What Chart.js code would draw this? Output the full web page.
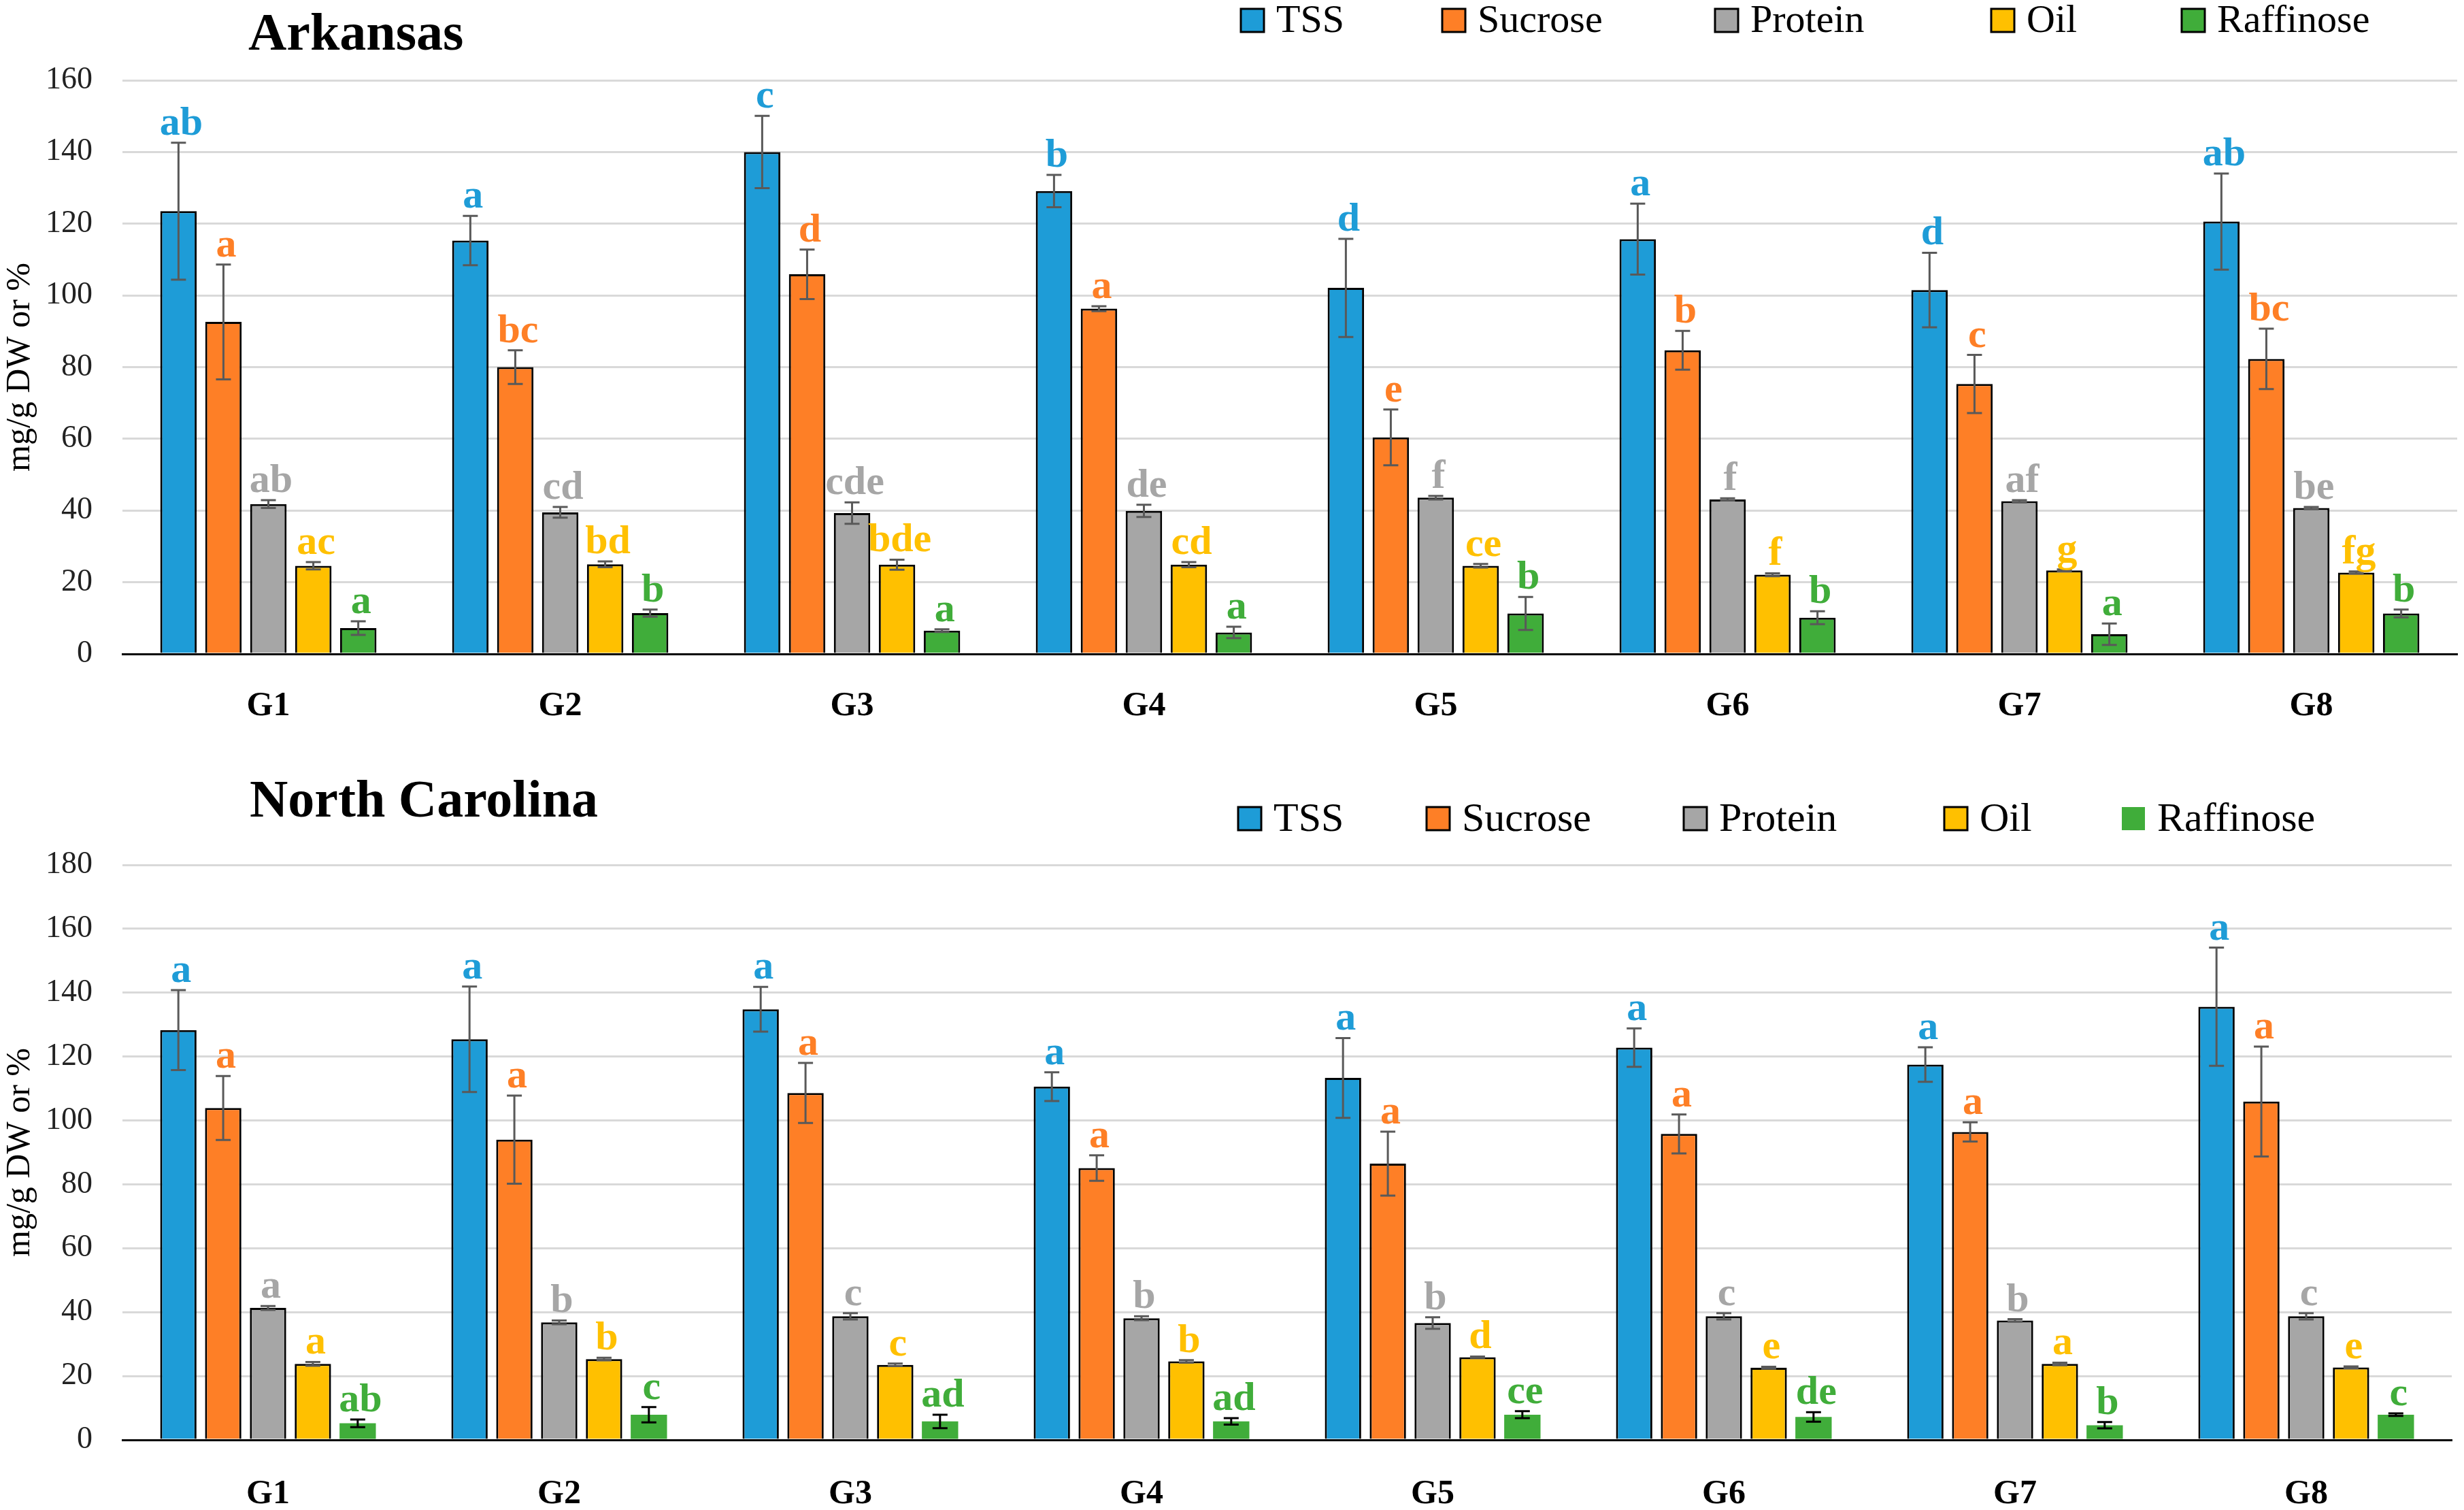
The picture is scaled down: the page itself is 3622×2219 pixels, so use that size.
<!DOCTYPE html>
<html>
<head>
<meta charset="utf-8">
<script src="https://cdn.jsdelivr.net/npm/chart.js@4.4.1/dist/chart.umd.min.js"></script>
<style>
    html, body { margin: 0; padding: 0; background: #fff; }
    .panel { position: absolute; left: 0; width: 3622px; }
</style>
</head>
<body>
<div class="panel" style="top:0;height:1100px"><canvas id="arkansas" width="3622" height="1100"></canvas></div>
<div class="panel" style="top:1100px;height:1119px"><canvas id="carolina" width="3622" height="1119"></canvas></div>
<script>
// categories and series
var groups = ['G1', 'G2', 'G3', 'G4', 'G5', 'G6', 'G7', 'G8'];
var seriesNames = ['TSS', 'Sucrose', 'Protein', 'Oil', 'Raffinose'];

// Arkansas means, errors and letters
var arTSS = [123.5, 115.3, 140.0, 129.1, 102.1, 115.7, 101.5, 120.6];
var arTSSErr = [19.1, 6.9, 10.1, 4.5, 13.7, 9.9, 10.4, 13.4];
var arSucrose = [92.6, 80.0, 105.9, 96.3, 60.4, 84.7, 75.3, 82.3];
var arSucroseErr = [16.0, 4.7, 6.9, 0.7, 7.8, 5.4, 8.1, 8.4];
var arProtein = [41.8, 39.5, 39.3, 39.9, 43.6, 43.1, 42.6, 40.7];
var arProteinErr = [1.1, 1.5, 3.0, 1.7, 0.5, 0.3, 0.3, 0.3];
var arOil = [24.6, 25.0, 24.9, 24.9, 24.6, 22.1, 23.3, 22.7];
var arOilErr = [1.0, 0.8, 1.4, 0.7, 0.5, 0.4, 0.3, 0.3];
var arRaffinose = [7.2, 11.4, 6.5, 6.0, 11.3, 10.1, 5.5, 11.3];
var arRaffinoseErr = [1.9, 1.0, 0.4, 1.6, 4.6, 1.8, 3.0, 1.1];
var arTSSLet = ['ab', 'a', 'c', 'b', 'd', 'a', 'd', 'ab'];
var arSucroseLet = ['a', 'bc', 'd', 'a', 'e', 'b', 'c', 'bc'];
var arProteinLet = ['ab', 'cd', 'cde', 'de', 'f', 'f', 'af', 'be'];
var arOilLet = ['ac', 'bd', 'bde', 'cd', 'ce', 'f', 'g', 'fg'];
var arRaffinoseLet = ['a', 'b', 'a', 'a', 'b', 'b', 'a', 'b'];

// North Carolina means, errors and letters
var ncTSS = [128.3, 125.4, 134.8, 110.6, 113.3, 122.8, 117.5, 135.6];
var ncTSSErr = [12.5, 16.5, 7.0, 4.5, 12.5, 6.0, 5.4, 18.5];
var ncSucrose = [103.9, 94.0, 108.6, 85.1, 86.5, 95.8, 96.4, 105.9];
var ncSucroseErr = [10.0, 13.8, 9.4, 4.0, 10.0, 6.1, 3.0, 17.2];
var ncProtein = [41.3, 36.8, 38.7, 38.1, 36.6, 38.7, 37.4, 38.7];
var ncProteinErr = [0.6, 0.6, 1.0, 0.6, 1.8, 1.0, 0.4, 1.0];
var ncOil = [23.8, 25.3, 23.5, 24.6, 25.9, 22.6, 23.8, 22.7];
var ncOilErr = [0.6, 0.4, 0.4, 0.4, 0.2, 0.3, 0.4, 0.3];
var ncRaffinose = [5.2, 7.9, 5.8, 5.8, 7.9, 7.2, 4.6, 7.9];
var ncRaffinoseErr = [1.2, 2.4, 2.1, 1.0, 1.1, 1.5, 1.0, 0.4];
var ncTSSLet = ['a', 'a', 'a', 'a', 'a', 'a', 'a', 'a'];
var ncSucroseLet = ['a', 'a', 'a', 'a', 'a', 'a', 'a', 'a'];
var ncProteinLet = ['a', 'b', 'c', 'b', 'b', 'c', 'b', 'c'];
var ncOilLet = ['a', 'b', 'c', 'b', 'd', 'e', 'a', 'e'];
var ncRaffinoseLet = ['ab', 'c', 'ad', 'ad', 'ce', 'de', 'b', 'c'];

var FONT = "'Liberation Serif', 'Times New Roman', serif";
var fills = ['#1e9cd7', '#fe7f26', '#a6a6a6', '#ffc000', '#40ad3a'];

// error bars + significance letters, drawn over the bars
var errorBars = {
    id: 'errorBars',
    afterDatasetsDraw: function (chart) {
        var ctx = chart.ctx;
        var y = chart.scales.y;
        chart.data.datasets.forEach(function (ds, i) {
            var meta = chart.getDatasetMeta(i);
            meta.data.forEach(function (bar, j) {
                var v = ds.data[j], e = ds.errors[j];
                var top = y.getPixelForValue(v + e);
                var bot = y.getPixelForValue(v - e);
                ctx.save();
                ctx.strokeStyle = ds.errorColor;
                ctx.lineWidth = 3;
                ctx.beginPath();
                ctx.moveTo(bar.x, top); ctx.lineTo(bar.x, bot);
                ctx.moveTo(bar.x - 11, top); ctx.lineTo(bar.x + 11, top);
                ctx.moveTo(bar.x - 11, bot); ctx.lineTo(bar.x + 11, bot);
                ctx.stroke();
                ctx.fillStyle = ds.backgroundColor;
                ctx.font = 'bold 60px ' + FONT;
                ctx.textAlign = 'center';
                ctx.textBaseline = 'alphabetic';
                ctx.fillText(ds.letters[j], bar.x + 4, top - 12);
                ctx.restore();
            });
        });
    }
};

// panel title on the left, legend row on the right
var header = {
    id: 'header',
    afterDraw: function (chart, args, opts) {
        var ctx = chart.ctx;
        ctx.save();
        ctx.fillStyle = '#000';
        ctx.font = 'bold 78px ' + FONT;
        ctx.textAlign = 'left';
        ctx.textBaseline = 'alphabetic';
        ctx.fillText(opts.title, opts.titleX, opts.titleY);
        ctx.font = opts.legendSize + 'px ' + FONT;
        ctx.textBaseline = 'middle';
        chart.data.datasets.forEach(function (ds, i) {
            var x = opts.legendX[i], s = 34;
            ctx.fillStyle = ds.backgroundColor;
            ctx.fillRect(x, opts.legendY - s / 2, s, s);
            if (ds.borderWidth > 0) {
                ctx.strokeStyle = '#000';
                ctx.lineWidth = 3;
                ctx.strokeRect(x, opts.legendY - s / 2, s, s);
            }
            ctx.fillStyle = '#000';
            ctx.fillText(ds.label, x + s + 18, opts.legendY + 2);
        });
        ctx.restore();
    }
};

var makeSet = function (values, errors, letters, idx, border, errColor) {
    return {
        label: seriesNames[idx],
        data: values,
        errors: errors,
        letters: letters,
        backgroundColor: fills[idx],
        borderColor: '#000',
        borderWidth: border,
        errorColor: errColor,
        barPercentage: 0.81,
        categoryPercentage: 0.77
    };
};

var barChart = function (id, sets, cfg) {
    try {
        var ctx = document.getElementById(id);
        if (ctx) {
            var myChart = new Chart(ctx, {
                type: 'bar',
                data: { labels: groups, datasets: sets },
                plugins: [errorBars, header],
                options: {
                    responsive: false,
                    animation: false,
                    devicePixelRatio: 1,
                    layout: { padding: { top: cfg.top, right: cfg.right, bottom: 0, left: 0 } },
                    plugins: {
                        legend: { display: false },
                        tooltip: { enabled: false },
                        header: cfg.header
                    },
                    scales: {
                        x: {
                            grid: { display: false },
                            border: { display: true, color: '#000', width: 3 },
                            ticks: { color: '#000', padding: cfg.xPad, font: { family: FONT, size: 50, weight: 'bold' } },
                            afterFit: function (scale) { scale.height = cfg.xHeight; }
                        },
                        y: {
                            min: 0,
                            max: cfg.max,
                            ticks: { stepSize: 20, color: '#222', padding: 44, font: { family: FONT, size: 46 } },
                            grid: { color: '#d9d9d9', lineWidth: 3, drawTicks: false },
                            border: { display: false },
                            title: {
                                display: true,
                                text: 'mg/g DW or %',
                                color: '#000',
                                padding: 0,
                                font: { family: FONT, size: 50 }
                            },
                            afterFit: function (scale) { scale.width = 180; }
                        }
                    }
                }
            });
        }
    } catch (error) {
        console.log(error);
    }
};

barChart('arkansas', [
    makeSet(arTSS, arTSSErr, arTSSLet, 0, 3, '#595959'),
    makeSet(arSucrose, arSucroseErr, arSucroseLet, 1, 3, '#595959'),
    makeSet(arProtein, arProteinErr, arProteinLet, 2, 3, '#595959'),
    makeSet(arOil, arOilErr, arOilLet, 3, 3, '#595959'),
    makeSet(arRaffinose, arRaffinoseErr, arRaffinoseLet, 4, 3, '#595959')
], {
    top: 118, right: 10, max: 160, xHeight: 139, xPad: 39,
    header: { title: 'Arkansas', titleX: 365, titleY: 73, legendX: [1824, 2120, 2521, 2927, 3207], legendY: 30, legendSize: 58 }
});

barChart('carolina', [
    makeSet(ncTSS, ncTSSErr, ncTSSLet, 0, 3, '#595959'),
    makeSet(ncSucrose, ncSucroseErr, ncSucroseLet, 1, 3, '#595959'),
    makeSet(ncProtein, ncProteinErr, ncProteinLet, 2, 3, '#595959'),
    makeSet(ncOil, ncOilErr, ncOilLet, 3, 3, '#595959'),
    makeSet(ncRaffinose, ncRaffinoseErr, ncRaffinoseLet, 4, 0, '#000')
], {
    top: 171, right: 18, max: 180, xHeight: 103, xPad: 42,
    header: { title: 'North Carolina', titleX: 367, titleY: 100, legendX: [1820, 2097, 2475, 2858, 3119], legendY: 103, legendSize: 60 }
});
</script>
</body>
</html>
